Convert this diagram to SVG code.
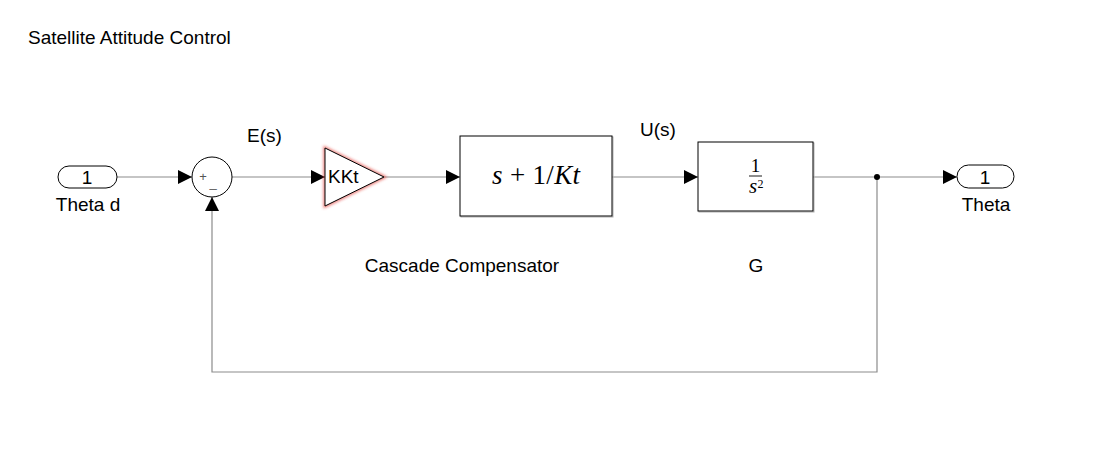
<svg xmlns="http://www.w3.org/2000/svg" width="1111" height="457" viewBox="0 0 1111 457">
<style>
.lbl{font-family:"Liberation Sans",Arial,sans-serif;font-size:19px;fill:#000}
.blk{fill:#fff;stroke:#000;stroke-width:1}
.shd{fill:none;stroke:#b0b0b0;stroke-width:1}
.wire{fill:none;stroke:#8c8c8c;stroke-width:1.2}
.math{font-family:"Liberation Serif","Times New Roman",serif;font-style:italic;fill:#000}
.num{font-family:"Liberation Serif","Times New Roman",serif;fill:#000}
</style>
<defs>
<marker id="ah" markerWidth="14" markerHeight="14" refX="14" refY="7" orient="auto" markerUnits="userSpaceOnUse">
<path d="M0,0 L14,7 L0,14 Z" fill="#000"/>
</marker>
<filter id="glow" x="-30%" y="-30%" width="160%" height="160%">
<feGaussianBlur stdDeviation="1.6"/>
</filter>
</defs>
<rect width="1111" height="457" fill="#fff"/>
<text class="lbl" x="28" y="44">Satellite Attitude Control</text>

<g id="connectors">
<path class="wire" d="M117,177 H192" marker-end="url(#ah)"/>
<path class="wire" d="M232,177 H325" marker-end="url(#ah)"/>
<path class="wire" d="M384,177 H460" marker-end="url(#ah)"/>
<path class="wire" d="M612,177 H698" marker-end="url(#ah)"/>
<path class="wire" d="M813,177 H957" marker-end="url(#ah)"/>
<path class="wire" d="M877,177 V372 H212 V197" marker-end="url(#ah)"/>
<circle cx="877" cy="177" r="3" fill="#000"/>
<text class="lbl" x="247" y="142">E(s)</text>
<text class="lbl" x="640" y="136">U(s)</text>
</g>

<g id="inport">
<rect class="blk" x="58" y="166" width="59" height="22" rx="11"/>
<text class="lbl" x="87" y="184" text-anchor="middle" font-size="18">1</text>
<text class="lbl" x="88" y="211" text-anchor="middle">Theta d</text>
</g>

<g id="sum">
<circle class="blk" cx="212" cy="177" r="20"/>
<text x="203" y="181" font-family="Liberation Sans,Arial,sans-serif" font-size="13" fill="#555" text-anchor="middle">+</text>
<text x="213" y="187" font-family="Liberation Sans,Arial,sans-serif" font-size="13" fill="#555" text-anchor="middle">_</text>
</g>

<g id="gain">
<path d="M325,148 L384,177 L325,206 Z" fill="none" stroke="#e0302a" stroke-width="3" filter="url(#glow)" opacity="0.7"/>
<path class="blk" d="M325,148 L384,177 L325,206 Z"/>
<text class="lbl" x="328" y="183" font-size="17">KKt</text>
</g>

<g id="compensator">
<rect class="shd" x="461" y="137" width="152" height="80"/>
<rect class="blk" x="460" y="136" width="152" height="80"/>
<text class="math" x="492" y="184" font-size="27" textLength="88" lengthAdjust="spacing">s<tspan font-style="normal"> + 1/</tspan>Kt</text>
<text class="lbl" x="462" y="272" text-anchor="middle">Cascade Compensator</text>
</g>

<g id="plant">
<rect class="shd" x="699" y="143" width="115" height="69"/>
<rect class="blk" x="698" y="142" width="115" height="69"/>
<text class="num" x="755.5" y="172" font-size="19" text-anchor="middle">1</text>
<line x1="749" y1="176" x2="762" y2="176" stroke="#000" stroke-width="0.9"/>
<text class="math" x="753" y="193" font-size="21" text-anchor="middle">s</text>
<text class="num" x="760.5" y="188" font-size="12" text-anchor="middle">2</text>
<text class="lbl" x="756" y="272" text-anchor="middle">G</text>
</g>

<g id="outport">
<rect class="blk" x="957" y="165" width="57" height="23" rx="11.5"/>
<text class="lbl" x="985" y="184" text-anchor="middle" font-size="18">1</text>
<text class="lbl" x="986" y="211" text-anchor="middle">Theta</text>
</g>
</svg>
